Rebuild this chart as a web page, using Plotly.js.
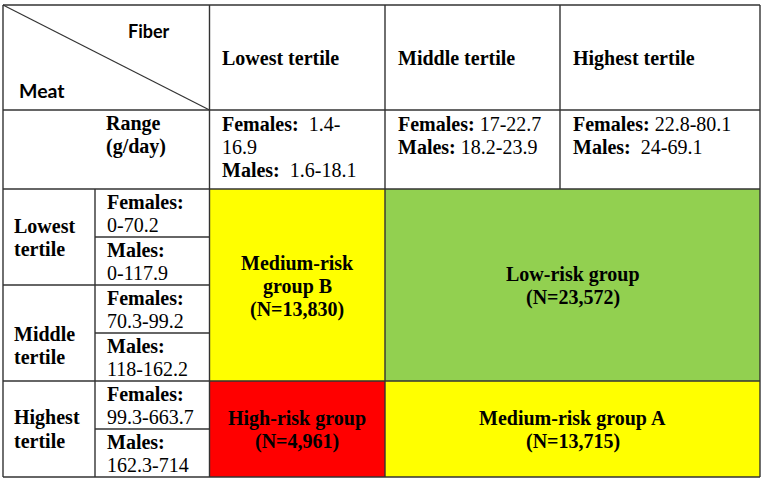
<!DOCTYPE html>
<html><head><meta charset="utf-8">
<script src="https://cdn.plot.ly/plotly-3.0.1.min.js"></script>
<style>html,body{margin:0;padding:0;background:#fff;}#chart{width:765px;height:481px;}</style>
</head><body><div id="chart"></div>
<script>
// ---------- data ----------
const rowVar = "Meat";
const colVar = "Fiber";
const rangeLabel = ["Range", "(g/day)"];
const fiberTertiles = ["Lowest tertile", "Middle tertile", "Highest tertile"];
const fiberFemales = ["1.4-16.9", "17-22.7", "22.8-80.1"];
const fiberMales = ["1.6-18.1", "18.2-23.9", "24-69.1"];
const meatTertiles = [["Lowest", "tertile"], ["Middle", "tertile"], ["Highest", "tertile"]];
const meatFemales = ["0-70.2", "70.3-99.2", "99.3-663.7"];
const meatMales = ["0-117.9", "118-162.2", "162.3-714"];
const groupNames = ["Medium-risk group B", "Low-risk group", "High-risk group", "Medium-risk group A"];
const groupN = [13830, 23572, 4961, 13715];

// ---------- layout / style ----------
const X = [3, 95, 209.5, 385, 560, 760];
const Y = [5, 110, 189, 237, 285, 333, 381, 429, 477];
const groupColors = ["#FFFF00", "#92D050", "#FF0000", "#FFFF00"];
// group cells: [x0idx, x1idx, y0idx, y1idx]
const groupCells = [[2, 3, 2, 6], [3, 5, 2, 6], [2, 3, 6, 8], [3, 5, 6, 8]];
const femGap = [2, 1, 1], maleGap = [2, 1, 2];
const meatOffset = [0, 12, 0];
const SERIF = "Liberation Serif, Times New Roman, serif";
const SANS = "Lato, Calibri, sans-serif";
const FS = 20, LH = 23, BASE = 6.75;
const lineCol = "#333333", lineW = 1.4;

const ctx = document.createElement("canvas").getContext("2d");
function measure(html) {
  let w = 0;
  const re = /<b>(.*?)<\/b>|([^<]+)/g; let m;
  while ((m = re.exec(html)) !== null) {
    if (m[1] !== undefined) { ctx.font = "bold " + FS + "px " + SERIF; w += ctx.measureText(m[1]).width; }
    else { ctx.font = FS + "px " + SERIF; w += ctx.measureText(m[2]).width; }
  }
  return w;
}
function wrapPlain(text, maxW, bold) {
  const toks = text.match(/[^\s-]+-?\s*|\s+/g);
  const lines = []; let cur = "";
  toks.forEach(t => {
    const test = cur + t;
    const h = bold ? "<b>" + test.trim() + "</b>" : test.trim();
    if (cur && measure(h) > maxW) { lines.push(cur.trim()); cur = t; } else cur = test;
  });
  if (cur.trim()) lines.push(cur.trim());
  return lines;
}
function wrapRange(label, gap, val, maxW) {
  const sp = "\u00a0".repeat(gap);
  const full = "<b>" + label + "</b>" + sp + val;
  if (measure(full) <= maxW) return [full];
  const parts = val.split("-");
  return ["<b>" + label + "</b>" + sp + parts[0] + "-", parts.slice(1).join("-")];
}

const annotations = [];
function ann(x, baseline, text, o) {
  o = o || {};
  annotations.push({
    x: x, y: baseline - BASE, xref: "x", yref: "y", text: text, showarrow: false,
    xanchor: o.anchor || "left", yanchor: "middle", borderpad: 0,
    font: {family: o.family || SERIF, size: o.size || FS, color: "#000"}
  });
}

const shapes = [];
groupCells.forEach((c, i) => {
  shapes.push({type: "rect", xref: "x", yref: "y", x0: X[c[0]], x1: X[c[1]], y0: Y[c[2]], y1: Y[c[3]],
    fillcolor: groupColors[i], line: {width: 0}, layer: "below"});
});
function hl(y, x0, x1) { shapes.push({type: "line", xref: "x", yref: "y", x0: x0, x1: x1, y0: y, y1: y, line: {color: lineCol, width: lineW}}); }
function vl(x, y0, y1) { shapes.push({type: "line", xref: "x", yref: "y", x0: x, x1: x, y0: y0, y1: y1, line: {color: lineCol, width: lineW}}); }
hl(Y[0], X[0], X[5]); hl(Y[1], X[0], X[5]); hl(Y[2], X[0], X[5]);
hl(Y[3], X[1], X[2]); hl(Y[4], X[0], X[2]); hl(Y[5], X[1], X[2]);
hl(Y[6], X[0], X[5]); hl(Y[7], X[1], X[2]); hl(Y[8], X[0], X[5]);
vl(X[0], Y[0], Y[8]); vl(X[1], Y[2], Y[8]); vl(X[2], Y[0], Y[8]);
vl(X[3], Y[0], Y[8]); vl(X[4], Y[0], Y[2]); vl(X[5], Y[0], Y[8]);
shapes.push({type: "line", xref: "x", yref: "y", x0: X[0], y0: Y[0], x1: X[2], y1: Y[1], line: {color: lineCol, width: 1.2}});

// corner labels
ann(149, 38, "<b>" + colVar + "</b>", {family: SANS, size: 18, anchor: "center"});
ann(18, 97, "<b>" + rowVar + "</b>", {family: SANS, size: 19.5});
rangeLabel.forEach((t, k) => ann(105, Y[1] + 20 + k * LH, "<b>" + t + "</b>"));

// fiber header + ranges
fiberTertiles.forEach((t, i) => {
  const x0 = X[i + 2], x1 = X[i + 3];
  ann(x0 + 11.5, (Y[0] + Y[1]) / 2 + BASE + 0.5, "<b>" + t + "</b>");
  const maxW = x1 - x0 - 30;
  const lines = wrapRange("Females:", femGap[i], fiberFemales[i], maxW)
    .concat(wrapRange("Males:", maleGap[i], fiberMales[i], maxW));
  lines.forEach((l, k) => ann(x0 + 11.5, Y[1] + 20.5 + k * LH, l));
});

// meat tertiles
meatTertiles.forEach((lines, i) => {
  const yt = Y[2 + 2 * i], yb = Y[4 + 2 * i];
  const cy = (yt + yb) / 2 + meatOffset[i];
  lines.forEach((t, k) => ann(X[0] + 10, cy - (lines.length - 1) * LH / 2 + k * LH + BASE, "<b>" + t + "</b>"));
  const subs = [["Females:", meatFemales[i]], ["Males:", meatMales[i]]];
  subs.forEach((s, j) => {
    const top = Y[2 + 2 * i + j];
    ann(X[1] + 11, top + 20, "<b>" + s[0] + "</b>");
    ann(X[1] + 11, top + 20 + LH, s[1]);
  });
});

// groups
groupCells.forEach((c, i) => {
  const x0 = X[c[0]], x1 = X[c[1]], y0 = Y[c[2]], y1 = Y[c[3]];
  const lines = wrapPlain(groupNames[i], x1 - x0 - 30, true).concat(["(N=" + groupN[i].toLocaleString("en-US") + ")"]);
  const cx = (x0 + x1) / 2, cy = (y0 + y1) / 2 + 1;
  lines.forEach((t, k) => ann(cx, cy - (lines.length - 1) * LH / 2 + k * LH + BASE, "<b>" + t + "</b>", {anchor: "center"}));
});

const layout = {
  width: 765, height: 481, margin: {l: 0, r: 0, t: 0, b: 0},
  paper_bgcolor: "#fff", plot_bgcolor: "#fff", showlegend: false,
  xaxis: {range: [0, 765], visible: false, fixedrange: true},
  yaxis: {range: [481, 0], visible: false, fixedrange: true},
  shapes: shapes, annotations: annotations
};
Plotly.newPlot("chart", [], layout, {displayModeBar: false, staticPlot: true});
</script></body></html>
